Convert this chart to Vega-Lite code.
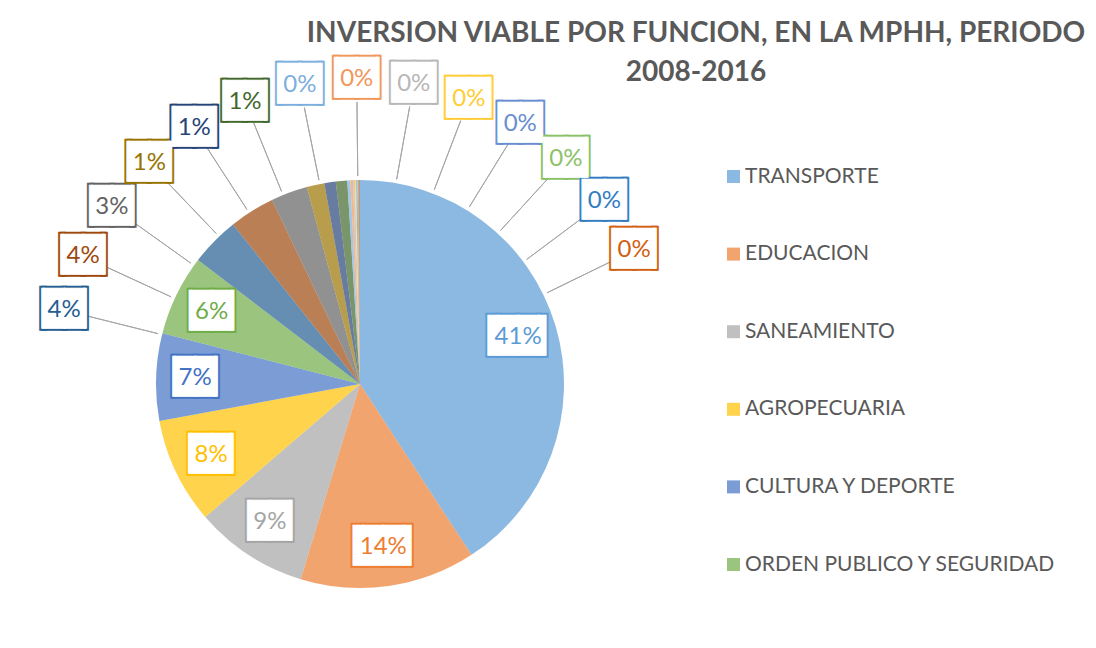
{
  "$schema": "https://vega.github.io/schema/vega-lite/v6.json",
  "width": 720,
  "height": 528,
  "autosize": {"type": "none"},
  "padding": {"left": 0, "top": 120, "right": 376, "bottom": 0},
  "background": "white",
  "config": {"view": {"stroke": null}, "font": "Lato"},
  "title": {
    "text": ["INVERSION VIABLE POR FUNCION, EN LA MPHH, PERIODO", "2008-2016"],
    "anchor": "middle",
    "frame": "group",
    "dx": 336,
    "dy": 25,
    "offset": 0,
    "font": "Lato",
    "fontSize": 28,
    "fontWeight": "bold",
    "color": "#595959",
    "lineHeight": 39
  },
  "data": {
    "values": [
      {"funcion": "TRANSPORTE", "porcentaje": 0.408},
      {"funcion": "EDUCACION", "porcentaje": 0.139},
      {"funcion": "SANEAMIENTO", "porcentaje": 0.090},
      {"funcion": "AGROPECUARIA", "porcentaje": 0.084},
      {"funcion": "CULTURA Y DEPORTE", "porcentaje": 0.069},
      {"funcion": "ORDEN PUBLICO Y SEGURIDAD", "porcentaje": 0.064},
      {"funcion": "FUNCION 07", "porcentaje": 0.039},
      {"funcion": "FUNCION 08", "porcentaje": 0.036},
      {"funcion": "FUNCION 09", "porcentaje": 0.029},
      {"funcion": "FUNCION 10", "porcentaje": 0.014},
      {"funcion": "FUNCION 11", "porcentaje": 0.009},
      {"funcion": "FUNCION 12", "porcentaje": 0.009},
      {"funcion": "FUNCION 13", "porcentaje": 0.0025},
      {"funcion": "FUNCION 14", "porcentaje": 0.002},
      {"funcion": "FUNCION 15", "porcentaje": 0.0015},
      {"funcion": "FUNCION 16", "porcentaje": 0.001},
      {"funcion": "FUNCION 17", "porcentaje": 0.001},
      {"funcion": "FUNCION 18", "porcentaje": 0.0005},
      {"funcion": "FUNCION 19", "porcentaje": 0.0005},
      {"funcion": "FUNCION 20", "porcentaje": 0.001}
    ]
  },
  "transform": [{"window": [{"op": "row_number", "as": "orden"}]}],
  "layer": [
    {
      "layer": [
        {
          "mark": {"type": "arc", "outerRadius": 204, "opacity": 0.7},
          "encoding": {
            "theta": {"field": "porcentaje", "type": "quantitative", "stack": true},
            "order": {"field": "orden", "type": "quantitative"},
            "color": {
              "field": "funcion",
              "type": "nominal",
              "scale": {
                "domain": ["TRANSPORTE", "EDUCACION", "SANEAMIENTO", "AGROPECUARIA", "CULTURA Y DEPORTE", "ORDEN PUBLICO Y SEGURIDAD", "FUNCION 07", "FUNCION 08", "FUNCION 09", "FUNCION 10", "FUNCION 11", "FUNCION 12", "FUNCION 13", "FUNCION 14", "FUNCION 15", "FUNCION 16", "FUNCION 17", "FUNCION 18", "FUNCION 19", "FUNCION 20"],
                "range": ["#5B9BD5", "#ED7D31", "#A5A5A5", "#FFC000", "#4472C4", "#70AD47", "#255E91", "#9E480E", "#636363", "#997300", "#264478", "#43682B", "#7CAFDD", "#F1975A", "#B7B7B7", "#FFCD33", "#698ED0", "#8CC168", "#327DC2", "#D26012"]
              },
              "legend": {
                "values": ["TRANSPORTE", "EDUCACION", "SANEAMIENTO", "AGROPECUARIA", "CULTURA Y DEPORTE", "ORDEN PUBLICO Y SEGURIDAD"],
                "title": null,
                "orient": "none",
                "legendX": 723,
                "legendY": 46,
                "padding": 0,
                "symbolType": "square",
                "symbolSize": 169,
                "symbolOpacity": 0.7,
                "symbolStrokeWidth": 0,
                "labelFont": "Lato",
                "labelFontSize": 21,
                "labelColor": "#595959",
                "labelOffset": 1,
                "labelLimit": 400,
                "rowPadding": 55.6
              }
            }
          }
        },
        {
          "transform": [{"filter": "datum.orden <= 6"}],
          "encoding": {
            "theta": {"field": "porcentaje", "type": "quantitative", "stack": true},
            "order": {"field": "orden", "type": "quantitative"}
          },
          "layer": [
            {
              "mark": {"type": "text", "radius": 165, "font": "DejaVu Sans Mono", "fontSize": 33.5, "align": "center", "baseline": "middle", "strokeWidth": 5, "strokeJoin": "miter"},
              "encoding": {
                "text": {"condition": {"test": "datum.orden <= 2", "value": "▐██▍"}, "value": "▕██▏"},
                "fill": {"field": "funcion", "type": "nominal", "scale": {"domain": ["TRANSPORTE", "EDUCACION", "SANEAMIENTO", "AGROPECUARIA", "CULTURA Y DEPORTE", "ORDEN PUBLICO Y SEGURIDAD", "FUNCION 07", "FUNCION 08", "FUNCION 09", "FUNCION 10", "FUNCION 11", "FUNCION 12", "FUNCION 13", "FUNCION 14", "FUNCION 15", "FUNCION 16", "FUNCION 17", "FUNCION 18", "FUNCION 19", "FUNCION 20"], "range": ["#5B9BD5", "#ED7D31", "#A5A5A5", "#FFC000", "#4472C4", "#70AD47", "#255E91", "#9E480E", "#636363", "#997300", "#264478", "#43682B", "#7CAFDD", "#F1975A", "#B7B7B7", "#FFCD33", "#698ED0", "#8CC168", "#327DC2", "#D26012"]}, "legend": null},
                "stroke": {"field": "funcion", "type": "nominal", "scale": {"domain": ["TRANSPORTE", "EDUCACION", "SANEAMIENTO", "AGROPECUARIA", "CULTURA Y DEPORTE", "ORDEN PUBLICO Y SEGURIDAD", "FUNCION 07", "FUNCION 08", "FUNCION 09", "FUNCION 10", "FUNCION 11", "FUNCION 12", "FUNCION 13", "FUNCION 14", "FUNCION 15", "FUNCION 16", "FUNCION 17", "FUNCION 18", "FUNCION 19", "FUNCION 20"], "range": ["#5B9BD5", "#ED7D31", "#A5A5A5", "#FFC000", "#4472C4", "#70AD47", "#255E91", "#9E480E", "#636363", "#997300", "#264478", "#43682B", "#7CAFDD", "#F1975A", "#B7B7B7", "#FFCD33", "#698ED0", "#8CC168", "#327DC2", "#D26012"]}, "legend": null}
              }
            },
            {
              "mark": {"type": "text", "radius": 165, "font": "DejaVu Sans Mono", "fontSize": 33.5, "align": "center", "baseline": "middle", "fill": "white", "stroke": "white", "strokeWidth": 1},
              "encoding": {
                "text": {"condition": {"test": "datum.orden <= 2", "value": "▐██▍"}, "value": "▕██▏"}
              }
            },
            {
              "mark": {"type": "text", "radius": 165, "font": "Lato", "fontSize": 24, "align": "center", "baseline": "middle"},
              "encoding": {
                "text": {"field": "porcentaje", "type": "quantitative", "format": ".0%"},
                "fill": {"field": "funcion", "type": "nominal", "legend": null}
              }
            }
          ]
        }
      ]
    },
    {
      "transform": [{"filter": "datum.orden >= 7"}],
      "encoding": {
        "theta": {"field": "orden", "type": "quantitative", "stack": null, "scale": {"domain": [7, 20], "range": [4.9567, 7.4002], "zero": false}}
      },
      "layer": [
        {
          "mark": {"type": "arc", "innerRadius": 208, "outerRadius": 282, "fill": "transparent", "stroke": "#A6A6A6", "strokeWidth": 1},
          "encoding": {
            "theta2": {"field": "orden"}
          }
        },
        {
          "mark": {"type": "text", "radius": 305, "font": "DejaVu Sans Mono", "fontSize": 33.5, "align": "center", "baseline": "middle", "strokeWidth": 5, "strokeJoin": "miter", "text": "▕██▏"},
          "encoding": {
            "fill": {"field": "funcion", "type": "nominal", "legend": null},
            "stroke": {"field": "funcion", "type": "nominal", "legend": null}
          }
        },
        {
          "mark": {"type": "text", "radius": 305, "font": "DejaVu Sans Mono", "fontSize": 33.5, "align": "center", "baseline": "middle", "fill": "white", "stroke": "white", "strokeWidth": 1, "text": "▕██▏"},
          "encoding": {}
        },
        {
          "mark": {"type": "text", "radius": 305, "font": "Lato", "fontSize": 24, "align": "center", "baseline": "middle"},
          "encoding": {
            "text": {"field": "porcentaje", "type": "quantitative", "format": ".0%"},
            "fill": {"field": "funcion", "type": "nominal", "legend": null}
          }
        }
      ]
    }
  ],
  "resolve": {"scale": {"theta": "independent"}}
}
